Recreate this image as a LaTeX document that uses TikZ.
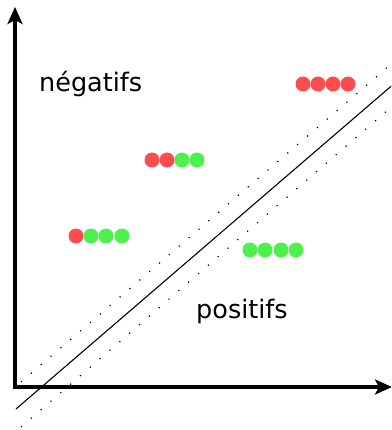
\documentclass[tikz,border=0pt]{standalone}
\usepackage{fontspec}
\setmainfont{DejaVu Sans}
\usetikzlibrary{arrows.meta}
\definecolor{dred}{HTML}{FF4D4D}
\definecolor{dgreen}{HTML}{4DF04D}
\tikzset{
  dotr/.style={circle,fill=dred,inner sep=0pt,minimum size=15pt},
  dotg/.style={circle,fill=dgreen,inner sep=0pt,minimum size=15pt},
  lbl/.style={inner sep=0pt,font=\fontsize{25.5}{30}\selectfont},
  axis/.style={line width=3.4pt,{Stealth[length=17pt,width=15pt,inset=4pt]}-{Stealth[length=17pt,width=15pt,inset=4pt]}},
  sep/.style={line width=1.1pt},
  margin/.style={line width=1.2pt,dash pattern=on 1.2pt off 11.8pt}
}
\begin{document}
\begin{tikzpicture}[x=1pt,y=-1pt]
\useasboundingbox (0,0) rectangle (391,430);
\begin{scope}
\clip (0,0) rectangle (391,430);
\coordinate (yt) at (15,7);
\coordinate (o) at (15,387);
\coordinate (xt) at (392,387);
\draw[axis] (yt) -- (o) -- (xt);
\coordinate (s1) at (16,409);
\coordinate (s2) at (396,82);
\coordinate (u1) at (21,382);
\coordinate (u2) at (396,60);
\coordinate (l1) at (21,427);
\coordinate (l2) at (396,103);
\draw[sep] (s1) -- (s2);
\draw[margin] (u1) -- (u2);
\draw[margin] (l1) -- (l2);
\end{scope}
% row 1
\node[dotr] (a1) at (303,84) {};
\node[dotr] (a2) at (318,84) {};
\node[dotr] (a3) at (333,84) {};
\node[dotr] (a4) at (348,84) {};
% row 2
\node[dotr] (b1) at (152,160) {};
\node[dotr] (b2) at (167,160) {};
\node[dotg] (b3) at (182,160) {};
\node[dotg] (b4) at (197,160) {};
% row 3
\node[dotr] (c1) at (76,236) {};
\node[dotg] (c2) at (91,236) {};
\node[dotg] (c3) at (106,236) {};
\node[dotg] (c4) at (122,236) {};
% row 4
\node[dotg] (d1) at (250,250) {};
\node[dotg] (d2) at (265,250) {};
\node[dotg] (d3) at (281,250) {};
\node[dotg] (d4) at (296,250) {};
\node[lbl,anchor=base west] (neg) at (39,92) {négatifs};
\node[lbl,anchor=base west] (pos) at (196,318) {positifs};
\end{tikzpicture}
\end{document}
